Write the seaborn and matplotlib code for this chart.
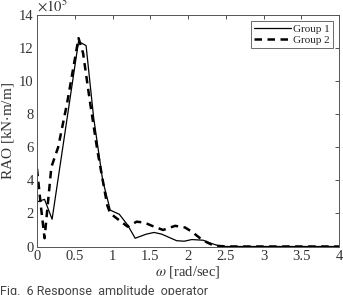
import seaborn as sns
import matplotlib.pyplot as plt
import pandas as pd

sns.set_theme(style='white')
plt.rcParams['font.family'] = ['Liberation Serif', 'DejaVu Serif']
plt.rcParams['mathtext.fontset'] = 'stix'

# RAO values in units of 1e5 kN.m/m
omega_1 = [0, 0.1, 0.2, 0.55, 0.65, 0.75, 0.87, 0.97, 1.09, 1.2, 1.3, 1.45,
           1.55, 1.65, 1.85, 1.95, 2.05, 2.2, 2.3, 2.4, 2.5, 3.0, 3.5, 4.0]
rao_1 = [2.7, 2.85, 1.65, 12.4, 12.15, 7.8, 4.0, 2.2, 1.95, 1.3, 0.5, 0.75,
         0.85, 0.75, 0.35, 0.32, 0.42, 0.38, 0.2, 0.05, 0.0, 0.0, 0.0, 0.0]

omega_2 = [0, 0.05, 0.1, 0.19, 0.28, 0.4, 0.5, 0.55, 0.61, 0.7, 0.8, 0.93,
           0.97, 1.1, 1.2, 1.32, 1.42, 1.55, 1.67, 1.83, 1.96, 2.05, 2.16,
           2.25, 2.34, 2.5, 3.0, 3.5, 4.0]
rao_2 = [4.7, 2.5, 0.5, 4.8, 6.0, 8.7, 11.3, 12.6, 11.7, 8.8, 5.8, 2.5,
         2.0, 1.55, 1.2, 1.5, 1.45, 1.2, 1.0, 1.25, 1.15, 0.9, 0.5,
         0.25, 0.06, 0.0, 0.0, 0.0, 0.0]

df1 = pd.DataFrame({'omega': omega_1, 'rao': rao_1})
df2 = pd.DataFrame({'omega': omega_2, 'rao': rao_2})

fig = plt.figure(figsize=(3.43, 2.95), dpi=100)
ax = fig.add_axes([37 / 343, 1 - 246.5 / 295, 302 / 343, 231.5 / 295])

sns.lineplot(data=df1, x='omega', y='rao', color='black', lw=0.9,
             label='Group 1', ax=ax, sort=False)
sns.lineplot(data=df2, x='omega', y='rao', color='black', lw=1.8,
             dashes=False, linestyle=(0, (3.0, 2.2)),
             label='Group 2', ax=ax, sort=False)

ax.set_xlim(0, 4)
ax.set_ylim(0, 14)
ax.set_xticks([0, 0.5, 1, 1.5, 2, 2.5, 3, 3.5, 4])
ax.set_xticklabels(['0', '0.5', '1', '1.5', '2', '2.5', '3', '3.5', '4'])
ax.set_yticks(range(0, 15, 2))
ax.tick_params(direction='in', length=3, width=0.6, top=True, right=True,
               labelsize=10.5, colors='#333333', pad=2.5)
for s in ax.spines.values():
    s.set_color('#555555')
    s.set_linewidth(0.7)

ax.set_xlabel(r'$\omega$ [rad/sec]', fontsize=10.5, color='#333333',
              labelpad=1)
ax.set_ylabel('RAO [kN$\\cdot$m/m]', fontsize=11, color='#333333',
              labelpad=2)
ax.text(0.0, 1.0, r'$\times10^5$', transform=ax.transAxes,
        fontsize=10.5, color='#333333', ha='left', va='bottom')

leg = ax.legend(loc='upper right', fontsize=8, frameon=True, fancybox=False,
                edgecolor='#444444', handlelength=3.3, handletextpad=0.2,
                borderpad=0.3, labelspacing=0.15, borderaxespad=0.5)
leg.get_frame().set_linewidth(0.7)

fig.text(0.0, 1 - 285 / 295, 'Fig.  6 Response  amplitude  operator',
         fontsize=9, color='#444444', ha='left', va='top',
         family=['Roboto', 'DejaVu Sans'])

plt.savefig('out.png', dpi=100)
